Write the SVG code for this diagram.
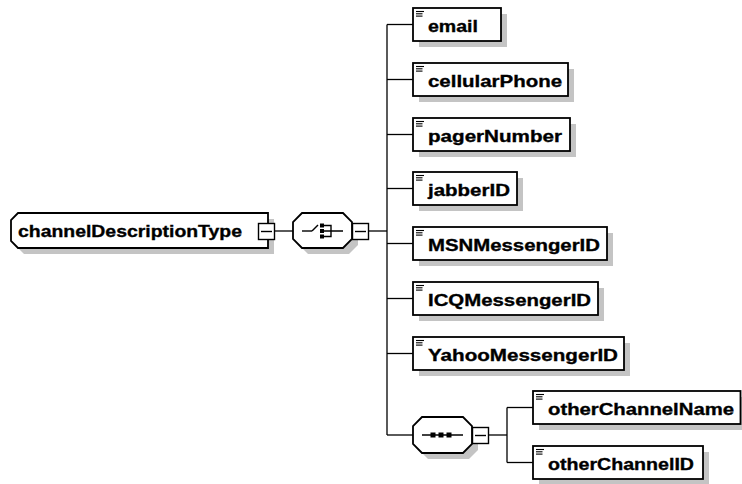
<svg xmlns="http://www.w3.org/2000/svg" width="742" height="484" viewBox="0 0 742 484">
  <style>
    .shadow { fill: #c4c4c4; stroke: none; }
    .box { fill: #ffffff; stroke: #000000; stroke-width: 1.8; }
    .exp { fill: #ffffff; stroke: #000000; stroke-width: 1.4; }
    .wire { fill: none; stroke: #000000; stroke-width: 1.3; }
    .sym { fill: none; stroke: #000000; stroke-width: 1.4; }
    .dot { fill: #000000; }
    .lbl { font-family: "Liberation Sans", Arial, sans-serif; font-weight: bold; font-size: 17px; fill: #000000; stroke: #000000; stroke-width: 0.35; }
    .ico { stroke: #000000; stroke-width: 1.1; }
  </style>
  <defs>
    <!-- element icon: three short bars in the top-left corner -->
    <g id="elemIcon">
      <line class="ico" x1="3" y1="3.5" x2="11" y2="3.5"/>
      <line class="ico" x1="3" y1="5.8" x2="9.5" y2="5.8"/>
      <line class="ico" x1="3" y1="8.1" x2="9.5" y2="8.1"/>
    </g>
  </defs>

  <rect width="742" height="484" fill="#ffffff"/>

  <!-- connectors -->
  <g id="connectors">
    <line class="wire" x1="275" y1="231" x2="293" y2="231"/>
    <line class="wire" x1="368" y1="231" x2="387" y2="231"/>
    <line class="wire" x1="387" y1="24.5" x2="387" y2="435"/>
    <line class="wire" x1="387" y1="24.5" x2="413" y2="24.5"/>
    <line class="wire" x1="387" y1="79.5" x2="413" y2="79.5"/>
    <line class="wire" x1="387" y1="134.5" x2="413" y2="134.5"/>
    <line class="wire" x1="387" y1="188.5" x2="413" y2="188.5"/>
    <line class="wire" x1="387" y1="243.5" x2="413" y2="243.5"/>
    <line class="wire" x1="387" y1="298.5" x2="413" y2="298.5"/>
    <line class="wire" x1="387" y1="353.5" x2="413" y2="353.5"/>
    <line class="wire" x1="387" y1="435" x2="413" y2="435"/>
    <line class="wire" x1="489" y1="435" x2="507" y2="435"/>
    <line class="wire" x1="507" y1="407.5" x2="507" y2="462.5"/>
    <line class="wire" x1="507" y1="407.5" x2="533" y2="407.5"/>
    <line class="wire" x1="507" y1="462.5" x2="533" y2="462.5"/>
  </g>

  <!-- complex type root -->
  <g id="channelDescriptionType">
    <path class="shadow" d="M24,219 H274 V254 H24 L17,247 V226 Z"/>
    <path class="box" d="M18,213 H268 V248 H18 L11,241 V220 Z"/>
    <text class="lbl" x="18" y="237" textLength="224" lengthAdjust="spacingAndGlyphs">channelDescriptionType</text>
    <rect class="exp" x="258.5" y="223.5" width="16" height="16"/>
    <line class="sym" x1="261" y1="231.5" x2="272" y2="231.5"/>
  </g>

  <!-- choice compositor -->
  <g id="choice">
    <path class="shadow" d="M308,219 H349 L358,228 V245 L349,254 H308 L299,245 V228 Z"/>
    <path class="box" d="M302,213 H343 L352,222 V239 L343,248 H302 L293,239 V222 Z"/>
    <line class="sym" x1="302" y1="231" x2="312" y2="231"/>
    <line class="sym" x1="312" y1="231" x2="318" y2="225"/>
    <rect class="dot" x="320" y="223.5" width="4" height="4"/>
    <rect class="dot" x="320" y="229" width="4" height="4"/>
    <rect class="dot" x="320" y="234.5" width="4" height="4"/>
    <path class="sym" d="M324,225.5 H331 V236.5 H324 M324,231 H343"/>
    <rect class="exp" x="352.5" y="223.5" width="16" height="16"/>
    <line class="sym" x1="355" y1="231.5" x2="366" y2="231.5"/>
  </g>

  <!-- leaf elements -->
  <g id="email">
    <rect class="shadow" x="419" y="14" width="88" height="33"/>
    <rect class="box" x="413" y="8" width="88" height="33"/>
    <use href="#elemIcon" x="413" y="8"/>
    <text class="lbl" x="428" y="32" textLength="50" lengthAdjust="spacingAndGlyphs">email</text>
  </g>
  <g id="cellularPhone">
    <rect class="shadow" x="419" y="69" width="155" height="33"/>
    <rect class="box" x="413" y="63" width="155" height="33"/>
    <use href="#elemIcon" x="413" y="63"/>
    <text class="lbl" x="428" y="87" textLength="134" lengthAdjust="spacingAndGlyphs">cellularPhone</text>
  </g>
  <g id="pagerNumber">
    <rect class="shadow" x="419" y="124" width="157" height="33"/>
    <rect class="box" x="413" y="118" width="157" height="33"/>
    <use href="#elemIcon" x="413" y="118"/>
    <text class="lbl" x="428" y="142" textLength="134" lengthAdjust="spacingAndGlyphs">pagerNumber</text>
  </g>
  <g id="jabberID">
    <rect class="shadow" x="419" y="178" width="104" height="33"/>
    <rect class="box" x="413" y="172" width="104" height="33"/>
    <use href="#elemIcon" x="413" y="172"/>
    <text class="lbl" x="428" y="196" textLength="82" lengthAdjust="spacingAndGlyphs">jabberID</text>
  </g>
  <g id="MSNMessengerID">
    <rect class="shadow" x="419" y="233" width="194" height="33"/>
    <rect class="box" x="413" y="227" width="194" height="33"/>
    <use href="#elemIcon" x="413" y="227"/>
    <text class="lbl" x="428" y="251" textLength="172" lengthAdjust="spacingAndGlyphs">MSNMessengerID</text>
  </g>
  <g id="ICQMessengerID">
    <rect class="shadow" x="419" y="288" width="185" height="33"/>
    <rect class="box" x="413" y="282" width="185" height="33"/>
    <use href="#elemIcon" x="413" y="282"/>
    <text class="lbl" x="428" y="306" textLength="163" lengthAdjust="spacingAndGlyphs">ICQMessengerID</text>
  </g>
  <g id="YahooMessengerID">
    <rect class="shadow" x="419" y="343" width="211" height="33"/>
    <rect class="box" x="413" y="337" width="211" height="33"/>
    <use href="#elemIcon" x="413" y="337"/>
    <text class="lbl" x="428" y="361" textLength="190" lengthAdjust="spacingAndGlyphs">YahooMessengerID</text>
  </g>

  <!-- sequence compositor -->
  <g id="sequence">
    <path class="shadow" d="M428,423 H469 L478,432 V450 L469,459 H428 L419,450 V432 Z"/>
    <path class="box" d="M422,417 H463 L472,426 V444 L463,453 H422 L413,444 V426 Z"/>
    <line class="sym" x1="422" y1="435" x2="463" y2="435"/>
    <rect class="dot" x="430.5" y="432.5" width="5" height="5"/>
    <rect class="dot" x="438.5" y="432.5" width="5" height="5"/>
    <rect class="dot" x="446.5" y="432.5" width="5" height="5"/>
    <rect class="exp" x="472.5" y="427.5" width="16" height="16"/>
    <line class="sym" x1="475" y1="435.5" x2="486" y2="435.5"/>
  </g>

  <g id="otherChannelName">
    <rect class="shadow" x="539" y="397" width="208" height="33"/>
    <rect class="box" x="533" y="391" width="207.5" height="33"/>
    <use href="#elemIcon" x="533" y="391"/>
    <text class="lbl" x="548" y="415" textLength="186" lengthAdjust="spacingAndGlyphs">otherChannelName</text>
  </g>
  <g id="otherChannelID">
    <rect class="shadow" x="539" y="452" width="170" height="33"/>
    <rect class="box" x="533" y="446" width="170" height="33"/>
    <use href="#elemIcon" x="533" y="446"/>
    <text class="lbl" x="548" y="470" textLength="146" lengthAdjust="spacingAndGlyphs">otherChannelID</text>
  </g>
</svg>
